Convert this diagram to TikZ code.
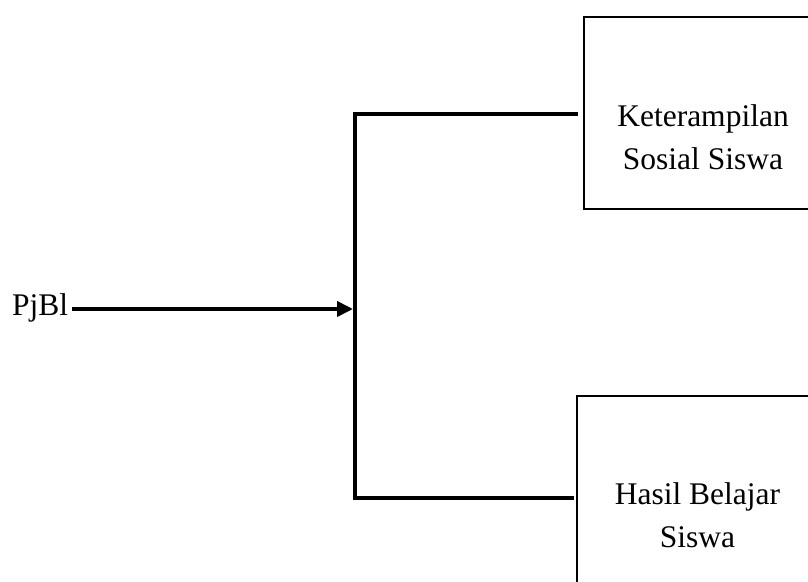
\documentclass[tikz,border=0pt]{standalone}
\usepackage{fontspec}
\setmainfont{Liberation Serif}
\usetikzlibrary{arrows.meta,calc}
\begin{document}
\begin{tikzpicture}[x=1pt,y=-1pt,
  box/.style={draw, line width=1.3pt, rectangle, inner sep=0pt},
  lbl/.style={font=\fontsize{31.5}{43}\selectfont, align=center, inner sep=0pt},
  link/.style={line width=3.8pt},
  flow/.style={line width=3.8pt, -{Triangle[length=16pt,width=15pt]}}]
  \useasboundingbox (0,0) rectangle (808,581);
  \clip (0,0) rectangle (808,581);

  % outcome boxes
  \node[box, minimum width=238pt, minimum height=192pt] (skill) at (703,113) {};
  \node[box, minimum width=241pt, minimum height=238pt] (result) at (697.5,515) {};
  % base anchor sits on the last line of each label
  \node[lbl, anchor=base] (skilltxt) at (703,169) {Keterampilan\\Sosial Siswa};
  \node[lbl, anchor=base] (resulttxt) at (697.5,547) {Hasil Belajar\\Siswa};

  % input label
  \node[lbl, anchor=base west] (pjbl) at (12,315) {PjBl};

  % branching points on the vertical bar
  \coordinate (jt) at (355,114);
  \coordinate (jm) at (355,309);
  \coordinate (jb) at (355,498);

  \draw[link] ($(jt)+(0,-1.9)$) -- ($(jb)+(0,1.9)$);
  \draw[link] ($(jt)+(-1.9,0)$) -- ([xshift=-5pt]jt -| skill.west);
  \draw[link] ($(jb)+(-1.9,0)$) -- ([xshift=-2pt]jb -| result.west);
  \draw[flow] ([xshift=4pt]pjbl.east |- jm) -- ([xshift=-2pt]jm);
\end{tikzpicture}
\end{document}
